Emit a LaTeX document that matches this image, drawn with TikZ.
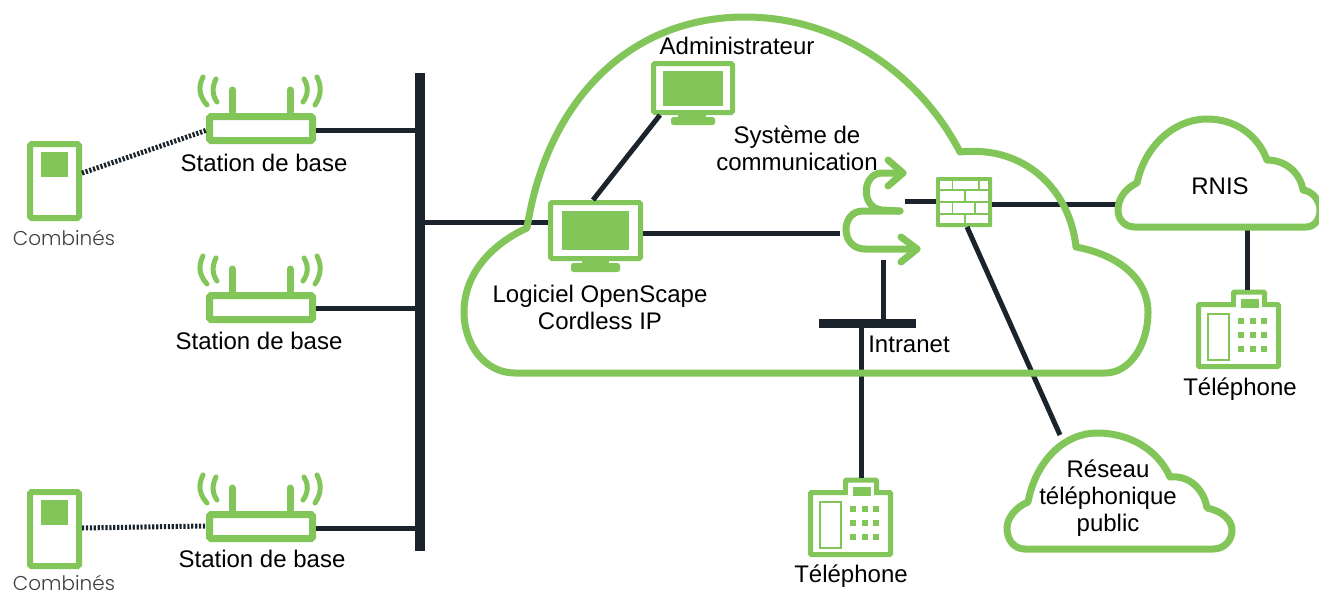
\documentclass[tikz,border=0pt]{standalone}
\usepackage{fontspec}
\setmainfont{Liberation Sans}
\newfontfamily\lightfont{Poppins Light}
\definecolor{gr}{HTML}{82C65A}
\definecolor{dk}{HTML}{1B242C}
\tikzset{
  x=1pt,y=-1pt,
  wire/.style={draw=dk,line width=5pt},
  radio/.style={draw=dk,line width=5pt,dash pattern=on 2.2pt off 1.7pt},
  cloudline/.style={draw=gr,line width=7pt,line join=round},
  greenline/.style={draw=gr,line width=7pt,line cap=round,line join=round},
  wave/.style={draw=gr,line width=5pt,line cap=round},
  lab/.style={font=\fontsize{24}{27}\selectfont,text=black,inner sep=0pt,align=center},
  lightlab/.style={font=\lightfont\fontsize{20}{24}\selectfont,text=black!75,inner sep=0pt},
  routerbox/.style={draw=gr,fill=white,line width=7pt,rounded corners=1.5pt,minimum width=103pt,minimum height=24pt,inner sep=0pt},
  handbox/.style={draw=gr,fill=white,line width=6pt,rounded corners=1.5pt,minimum width=49pt,minimum height=74pt,inner sep=0pt},
  monbox/.style={draw=gr,fill=white,line width=5pt,rounded corners=1.5pt,inner sep=0pt},
  solid/.style={fill=gr,inner sep=0pt,minimum size=0pt},
  phonebox/.style={draw=gr,fill=white,line width=5pt,rounded corners=1pt,minimum width=80pt,minimum height=62pt,inner sep=0pt},
  tabbox/.style={draw=gr,fill=white,line width=5pt,rounded corners=1pt,minimum width=31pt,minimum height=15pt,inner sep=0pt},
  ghost/.style={inner sep=0pt,minimum width=65pt,minimum height=100pt},
  busbar/.style={fill=dk,inner sep=0pt},
}
\newcommand{\routerdeco}[1]{%
  \begin{scope}[shift={(0,#1)}]
    \draw[wave,line width=7pt] (232,90)--(232,112);
    \draw[wave,line width=7pt] (290,90)--(290,112);
    \draw[wave] (203,77) .. controls (198,87) and (199,96) .. (207,105);
    \draw[wave] (216,79) .. controls (212,87) and (212,95) .. (217,102);
    \draw[wave] (317,77) .. controls (322,87) and (321,96) .. (315,105);
    \draw[wave] (304,79) .. controls (309,87) and (308,95) .. (303,102);
  \end{scope}}
\newcommand{\phonedeco}[2]{%
  \begin{scope}[shift={(#1,#2)}]
    \fill[gr] (1241,299) rectangle (1259,308);
    \draw[gr,line width=2.5pt] (1208,314) rectangle (1229,360);
    \foreach \px in {1241,1253,1264}
      \foreach \py in {321,335,349}
        \fill[gr] (\px-3,\py-3) rectangle (\px+3,\py+3);
  \end{scope}}
\begin{document}
\begin{tikzpicture}
\clip (0,0) rectangle (1319,592);
\fill[white] (0,0) rectangle (1319,592);

% bus and bars
\node[busbar,minimum width=10pt,minimum height=478pt] (bus) at (420,312) {};
\node[busbar,minimum width=97pt,minimum height=9pt] (intra) at (867.5,323) {};

% base stations
\routerdeco{0}\routerdeco{179}\routerdeco{398}
\node[routerbox] (st1) at (261,128.5) {};
\node[routerbox] (st2) at (261,307.5) {};
\node[routerbox] (st3) at (261,526.5) {};
\node[lab] (lst1) at (264,163) {Station de base};
\node[lab] (lst2) at (259,341) {Station de base};
\node[lab] (lst3) at (262,559) {Station de base};

% handsets
\node[handbox] (hs1) at (54.5,181) {};
\node[handbox] (hs2) at (54.5,529) {};
\node[solid,minimum width=27pt,minimum height=25pt] (sc1) at (54.5,164.5) {};
\node[solid,minimum width=27pt,minimum height=25pt] (sc2) at (54.5,512.5) {};
\node[lightlab] (lhs1) at (64,238) {Combinés};
\node[lightlab] (lhs2) at (64,583) {Combinés};

% monitors
\fill[gr] (582,261) rectangle (609,266);
\fill[gr,rounded corners=2.5pt] (571,272) -- (571,263) -- (620,263) -- (620,272) -- cycle;
\fill[gr] (678,115) rectangle (706,119);
\fill[gr,rounded corners=2.5pt] (671,125) -- (671,117) -- (715,117) -- (715,125) -- cycle;
\node[monbox,minimum width=90pt,minimum height=56pt] (mon) at (595.5,230.5) {};
\node[solid,minimum width=67pt,minimum height=39pt] at (595.5,230.5) {};
\node[monbox,minimum width=79pt,minimum height=49pt] (adm) at (693,88) {};
\node[solid,minimum width=60pt,minimum height=35pt] at (693,88.5) {};

% firewall
\node[fill=gr,rounded corners=1pt,inner sep=0pt,minimum width=56pt,minimum height=50pt] (fw) at (964,202) {};
\foreach \xa/\xb/\ya/\yb in {
  420/455/153/177, 460/535/153/177, 540/563/153/177,
  420/492/183/213, 497/563/183/213,
  420/455/219/248, 460/523/219/248, 528/563/219/248,
  420/492/254/278, 497/563/254/278}
  \fill[white] (800+\xa/3,130+\ya/3) rectangle (800+\xb/3,130+\yb/3);

% phones
\node[tabbox] (tel1tab) at (1249,299.5) {};
\node[phonebox] (tel1) at (1238.5,335.5) {};
\node[draw=none,fill=white,inner sep=0pt,minimum width=26pt,minimum height=6pt] at (1249,304) {};
\phonedeco{0}{0}
\node[tabbox] (tel2tab) at (861,487.5) {};
\node[phonebox] (tel2) at (850.5,523.5) {};
\node[draw=none,fill=white,inner sep=0pt,minimum width=26pt,minimum height=6pt] at (861,492) {};
\phonedeco{-388}{188}
\node[lab] (ltel1) at (1240,389) {Téléphone};
\node[lab] (ltel2) at (851,576) {Téléphone};

% communication system (invisible frame for connectors)
\node[ghost] (sys) at (872.5,210) {};

% named ends on the clouds
\coordinate (rnisW) at (1116,204);
\coordinate (rnisS) at (1247,227);
\coordinate (pubN) at (1060,435);

% connectors
\draw[wire] (st1.east |- 0,130) -- (bus.center |- 0,130);
\draw[wire] (st2.east |- 0,308) -- (bus.center |- 0,308);
\draw[wire] (st3.east |- 0,528) -- (bus.center |- 0,528);
\draw[wire] (bus.center |- 0,222) -- (mon.west |- 0,222);
\draw[wire] (adm.south west) ++(9,0) -- (593,200);
\draw[wire] (mon.east |- 0,233) -- (sys.west |- 0,233);
\draw[wire] (sys.east |- 0,201) -- (fw.west |- 0,201);
\draw[wire] (fw.east |- 0,204) -- (rnisW);
\draw[wire] (883,260) -- (883,320);
\draw[wire] (861,323) -- (tel2tab.north -| 861,0);
\draw[wire] (rnisS) -- (tel1tab.north -| 1247,0);
\draw[wire] (967,227) -- (pubN);
\draw[radio] (hs1.16) -- (st1.182.6);
\draw[radio] (hs2.east |- 0,528) -- (st3.west |- 0,526);

% communication-system symbol
\draw[greenline] (900,211) -- (882,210) .. controls (860,208) and (862,173) .. (882,173) -- (903,173);
\draw[greenline] (888,160) -- (903,173) -- (888,186);
\draw[greenline] (900,211) -- (863,211) .. controls (840,211) and (840,249) .. (865,249) -- (917,249);
\draw[greenline] (901,237) -- (917,249) -- (901,262);

% clouds
\draw[cloudline] (515,373) .. controls (485,373) and (464,345) .. (464,312)
  .. controls (464,275) and (490,245) .. (527,228)
  .. controls (547,100) and (630,17) .. (745,17)
  .. controls (840,17) and (920,75) .. (960,152)
  .. controls (1025,145) and (1070,190) .. (1076,247)
  .. controls (1120,255) and (1148,280) .. (1148,312)
  .. controls (1148,345) and (1130,373) .. (1105,373) -- cycle;
\draw[cloudline] (1135,227) .. controls (1125,227) and (1118,220) .. (1118,210)
  .. controls (1118,198) and (1126,188) .. (1137,183)
  .. controls (1145,145) and (1175,119) .. (1207,119)
  .. controls (1235,119) and (1258,135) .. (1267,160)
  .. controls (1285,160) and (1300,172) .. (1303,190)
  .. controls (1312,191) and (1320,200) .. (1320,210)
  .. controls (1320,220) and (1314,227) .. (1306,227) -- cycle;
\draw[cloudline] (1025,549) .. controls (1014,549) and (1007,540) .. (1007,528)
  .. controls (1007,518) and (1016,507) .. (1028,502)
  .. controls (1036,460) and (1065,433) .. (1097,433)
  .. controls (1130,433) and (1158,450) .. (1170,477)
  .. controls (1190,475) and (1204,490) .. (1207,508)
  .. controls (1222,511) and (1232,520) .. (1232,530)
  .. controls (1232,541) and (1224,549) .. (1213,549) -- cycle;

% cloud and system labels
\node[lab] (ladm) at (737,46) {Administrateur};
\node[lab] (lsys) at (797,148.5) {Système de\\communication};
\node[lab] (lsoft) at (600,307.5) {Logiciel OpenScape\\Cordless IP};
\node[lab] (lintra) at (909,344) {Intranet};
\node[lab] (rnis) at (1220,186) {RNIS};
\node[lab] (pub) at (1108,498) {Réseau\\téléphonique\\public};
\end{tikzpicture}
\end{document}
